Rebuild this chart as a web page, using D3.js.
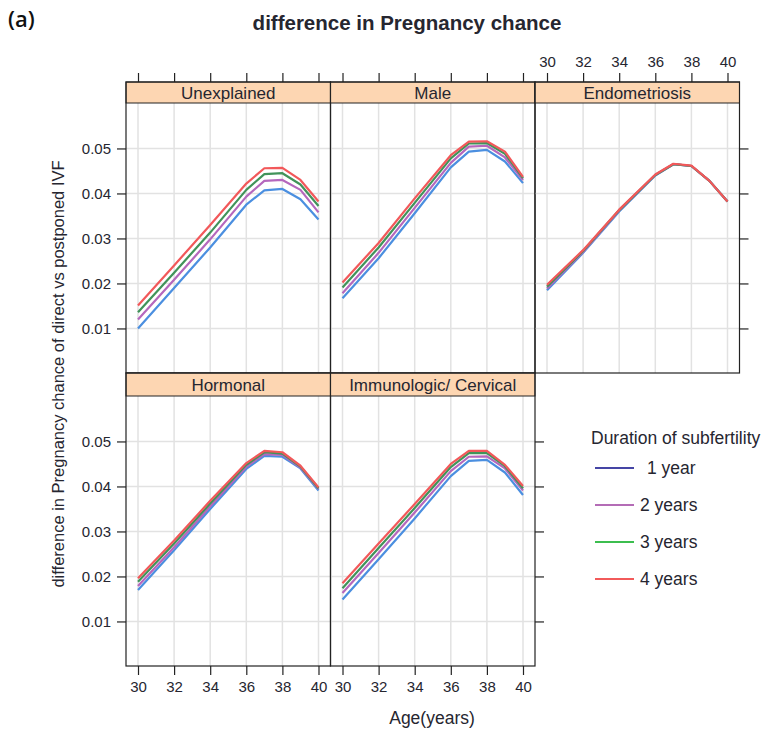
<!DOCTYPE html>
<html>
<head>
  <title>difference in Pregnancy chance</title>
  <script src="https://d3js.org/d3.v7.min.js"></script>
  <style>
    body { margin: 0; background: #fff; }
    text { font-family: "Liberation Sans", Arial, sans-serif; fill: #262630; }
  </style>
</head>
<body>
  <svg width="767" height="732"></svg>
  <script>
    // ages (kinks at 36-39, straight between 30 and 36)
    var ages = [30, 32, 34, 36, 37, 38, 39, 40];
    var durations = ["1 year", "2 years", "3 years", "4 years"];
    var xTicks = [30, 32, 34, 36, 38, 40];
    var yTicks = [0.01, 0.02, 0.03, 0.04, 0.05];

    // one row per duration: 1, 2, 3, 4 years
    var unexplained = [
      [0.0100, 0.0190, 0.0280, 0.0375, 0.0407, 0.0410, 0.0387, 0.0342],
      [0.0120, 0.0208, 0.0298, 0.0393, 0.0428, 0.0430, 0.0408, 0.0358],
      [0.0136, 0.0224, 0.0313, 0.0408, 0.0443, 0.0445, 0.0420, 0.0372],
      [0.0151, 0.0240, 0.0330, 0.0422, 0.0456, 0.0457, 0.0430, 0.0382]
    ];
    var male = [
      [0.0167, 0.0256, 0.0356, 0.0458, 0.0493, 0.0497, 0.0471, 0.0423],
      [0.0178, 0.0268, 0.0368, 0.0468, 0.0504, 0.0506, 0.0480, 0.0430],
      [0.0191, 0.0280, 0.0379, 0.0478, 0.0511, 0.0512, 0.0488, 0.0434],
      [0.0202, 0.0290, 0.0389, 0.0485, 0.0515, 0.0516, 0.0493, 0.0437]
    ];
    var endometriosis = [
      [0.0185, 0.0268, 0.0360, 0.0440, 0.0465, 0.0461, 0.0428, 0.0382],
      [0.0189, 0.0270, 0.0362, 0.0441, 0.0465, 0.0461, 0.0428, 0.0382],
      [0.0193, 0.0272, 0.0363, 0.0441, 0.0465, 0.0461, 0.0428, 0.0382],
      [0.0197, 0.0274, 0.0364, 0.0442, 0.0466, 0.0462, 0.0428, 0.0382]
    ];
    var hormonal = [
      [0.0170, 0.0258, 0.0350, 0.0439, 0.0468, 0.0466, 0.0440, 0.0391],
      [0.0179, 0.0265, 0.0356, 0.0444, 0.0472, 0.0470, 0.0442, 0.0394],
      [0.0188, 0.0273, 0.0362, 0.0448, 0.0476, 0.0473, 0.0444, 0.0396],
      [0.0196, 0.0280, 0.0368, 0.0452, 0.0479, 0.0476, 0.0446, 0.0398]
    ];
    var immunologic = [
      [0.0149, 0.0238, 0.0329, 0.0423, 0.0457, 0.0459, 0.0431, 0.0381],
      [0.0163, 0.0252, 0.0342, 0.0434, 0.0466, 0.0467, 0.0440, 0.0391],
      [0.0174, 0.0263, 0.0352, 0.0443, 0.0474, 0.0474, 0.0445, 0.0396],
      [0.0185, 0.0273, 0.0361, 0.0450, 0.0479, 0.0479, 0.0448, 0.0401]
    ];

    var lineColors = ["#4b8fe0", "#b567bd", "#41935a", "#f2585a"];
    var legendColors = ["#4545a5", "#b46cb6", "#3cbe4f", "#f25a5a"];

    var panels = [
      {name: "Unexplained", values: unexplained, col: 0, row: 0},
      {name: "Male", values: male, col: 1, row: 0},
      {name: "Endometriosis", values: endometriosis, col: 2, row: 0},
      {name: "Hormonal", values: hormonal, col: 0, row: 1},
      {name: "Immunologic/ Cervical", values: immunologic, col: 1, row: 1}
    ];

    var svg = d3.select("svg");
    var colX = [126, 330.5, 535], panelW = 204.5, panelH = 270;
    var rowY = [103, 396], stripH = [21, 23];

    var x = d3.scaleLinear().domain([29.335, 40.665]).range([0, panelW]);
    var y = d3.scaleLinear().domain([0.0001, 0.0601]).range([panelH, 0]);

    var line = d3.line()
        .x(function(d) { return x(d.age); })
        .y(function(d) { return y(d.v); });

    panels.forEach(function(p) {
      var x0 = colX[p.col], y0 = rowY[p.row], sh = stripH[p.row];
      var g = svg.append("g").attr("transform", "translate(" + x0 + "," + y0 + ")");

      // grid
      g.selectAll(".vg").data(xTicks).enter().append("line")
          .attr("x1", function(d) { return x(d); }).attr("x2", function(d) { return x(d); })
          .attr("y1", 0).attr("y2", panelH)
          .attr("stroke", "#e2e2e2").attr("stroke-width", 1.5);
      g.selectAll(".hg").data(yTicks).enter().append("line")
          .attr("y1", function(d) { return y(d); }).attr("y2", function(d) { return y(d); })
          .attr("x1", 0).attr("x2", panelW)
          .attr("stroke", "#e2e2e2").attr("stroke-width", 1.5);

      // series
      p.values.forEach(function(vals, i) {
        var pts = ages.map(function(a, j) { return {age: a, v: vals[j]}; });
        g.append("path").datum(pts)
            .attr("fill", "none")
            .attr("stroke", lineColors[i])
            .attr("stroke-width", 2.2)
            .attr("stroke-linejoin", "round")
            .attr("d", line);
      });

      // strip
      g.append("rect").attr("x", 0).attr("y", -sh).attr("width", panelW).attr("height", sh)
          .attr("fill", "#fdd6b2").attr("stroke", "#222").attr("stroke-width", 1);
      g.append("text").attr("x", panelW / 2).attr("y", -sh / 2 + 6)
          .attr("text-anchor", "middle").attr("font-size", "17px")
          .text(p.name);

      // frame
      g.append("rect").attr("x", 0).attr("y", -sh).attr("width", panelW).attr("height", panelH + sh)
          .attr("fill", "none").attr("stroke", "#222").attr("stroke-width", 1.2);

      // left axis
      if (p.col === 0) {
        var ay = d3.axisLeft(y).tickValues(yTicks).tickSize(9).tickPadding(6).tickFormat(d3.format(".2f"));
        var ga = g.append("g").call(ay);
        styleAxis(ga);
      }
      // top ticks on first row, labels only on the last column
      if (p.row === 0) {
        var at = d3.axisTop(x).tickValues(xTicks).tickSize(9).tickPadding(6)
            .tickFormat(p.col === 2 ? d3.format("d") : "");
        var gt = g.append("g").attr("transform", "translate(0," + (-sh) + ")").call(at);
        styleAxis(gt);
      }
      // bottom axis on second row
      if (p.row === 1) {
        var ab = d3.axisBottom(x).tickValues(xTicks).tickSize(9).tickPadding(6).tickFormat(d3.format("d"));
        var gb = g.append("g").attr("transform", "translate(0," + panelH + ")").call(ab);
        styleAxis(gb);
      }
      // right ticks on the outermost panels
      if ((p.row === 0 && p.col === 2) || (p.row === 1 && p.col === 1)) {
        var ar = d3.axisRight(y).tickValues(yTicks).tickSize(9).tickFormat("");
        var gr = g.append("g").attr("transform", "translate(" + panelW + ",0)").call(ar);
        styleAxis(gr);
      }
    });

    function styleAxis(sel) {
      sel.select(".domain").remove();
      sel.selectAll(".tick line").attr("stroke", "#222").attr("stroke-width", 1.2);
      sel.selectAll(".tick text")
          .attr("font-family", "Liberation Sans, Arial, sans-serif")
          .attr("font-size", "15px").attr("fill", "#262630");
    }

    // titles
    svg.append("text").attr("x", 407).attr("y", 30)
        .attr("text-anchor", "middle").attr("font-size", "20.5px").attr("font-weight", "bold")
        .text("difference in Pregnancy chance");
    svg.append("text").attr("x", 8).attr("y", 27)
        .attr("font-size", "22px").attr("font-weight", 600)
        .style("font-family", "'Open Sans', sans-serif").style("fill", "#111")
        .text("(a)");
    svg.append("text").attr("x", 432).attr("y", 724)
        .attr("text-anchor", "middle").attr("font-size", "17.5px")
        .text("Age(years)");
    svg.append("text")
        .attr("transform", "translate(64,374) rotate(-90)")
        .attr("text-anchor", "middle").attr("font-size", "16.5px")
        .text("difference in Pregnancy chance of direct vs postponed IVF");

    // legend
    var lg = svg.append("g").attr("transform", "translate(591,0)");
    lg.append("text").attr("x", 0).attr("y", 444).attr("font-size", "17.5px")
        .text("Duration of subfertility");
    var ly = d3.scalePoint().domain(durations).range([468, 579]);
    durations.forEach(function(d, i) {
      lg.append("line").attr("x1", 4).attr("x2", 43)
          .attr("y1", ly(d)).attr("y2", ly(d))
          .attr("stroke", legendColors[i]).attr("stroke-width", 2);
      lg.append("text").attr("x", i === 0 ? 56 : 49).attr("y", ly(d) + 6)
          .attr("font-size", "17.5px").text(d);
    });
  </script>
</body>
</html>
